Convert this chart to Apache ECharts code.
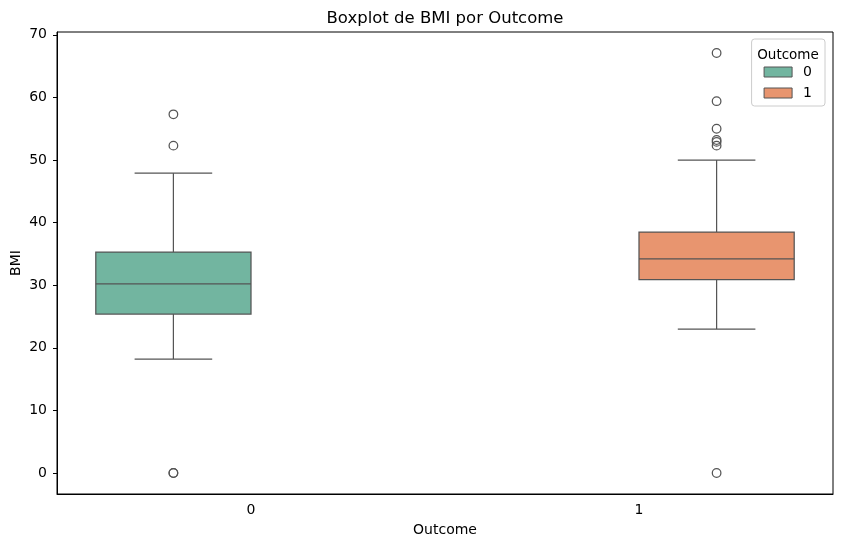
<!DOCTYPE html>
<html>
<head>
<meta charset="utf-8">
<script src="https://cdn.jsdelivr.net/npm/echarts@6/dist/echarts.min.js"></script>
<style>
html,body{margin:0;padding:0;background:#fff;}
#chart{width:841px;height:547px;}
</style>
</head>
<body>
<div id="chart"></div>
<script>
// Data
const categories = ['0', '1'];
const hueNames = ['0', '1'];
// [min whisker, Q1, median, Q3, max whisker]
const box0 = [18.2, 25.4, 30.2, 35.3, 47.9];
const box1 = [23.0, 30.9, 34.2, 38.5, 50.0];
const outliers0 = [0, 0, 52.3, 57.3];
const outliers1 = [0, 52.3, 52.9, 53.2, 55.0, 59.4, 67.1];
const yTicks = [0, 10, 20, 30, 40, 50, 60, 70];

const colors = ['#72b5a0', '#e8956f'];
const edge = '#555555';
const FONT = 'DejaVu Sans';

function boxRender(params, api) {
  const c = api.value(0), hue = api.value(1);
  const bw = api.size([1, 0])[0];
  const center = api.coord([c, 0])[0];
  const x = center + (hue - 0.5) * 0.4 * bw;
  const w = 0.4 * bw;
  const y = [2, 3, 4, 5, 6].map(i => api.coord([c, api.value(i)])[1]);
  const ls = { stroke: edge, lineWidth: 1.25 };
  return {
    type: 'group',
    children: [
      { type: 'line', shape: { x1: x, y1: y[0], x2: x, y2: y[1] }, style: ls },
      { type: 'line', shape: { x1: x, y1: y[3], x2: x, y2: y[4] }, style: ls },
      { type: 'line', shape: { x1: x - w / 4, y1: y[0], x2: x + w / 4, y2: y[0] }, style: ls },
      { type: 'line', shape: { x1: x - w / 4, y1: y[4], x2: x + w / 4, y2: y[4] }, style: ls },
      { type: 'rect', shape: { x: x - w / 2, y: y[3], width: w, height: y[1] - y[3] },
        style: { fill: colors[hue], stroke: edge, lineWidth: 1.25 } },
      { type: 'line', shape: { x1: x - w / 2, y1: y[2], x2: x + w / 2, y2: y[2] }, style: ls }
    ]
  };
}

function outlierRender(params, api) {
  const c = api.value(0), hue = api.value(1);
  const bw = api.size([1, 0])[0];
  const p = api.coord([c, api.value(2)]);
  const x = p[0] + (hue - 0.5) * 0.4 * bw;
  return {
    type: 'circle',
    shape: { cx: x, cy: p[1], r: 4.3 },
    style: { fill: 'none', stroke: edge, lineWidth: 1.25 }
  };
}

const boxSeries = [box0, box1].map((b, h) => ({
  name: hueNames[h],
  type: 'custom',
  renderItem: boxRender,
  itemStyle: { color: colors[h], borderColor: edge, borderWidth: 1 },
  encode: { x: 0, y: [2, 3, 4, 5, 6] },
  data: [[h, h].concat(b)],
  z: 2
}));

const outSeries = [outliers0, outliers1].map((o, h) => ({
  name: 'out' + h,
  type: 'custom',
  renderItem: outlierRender,
  encode: { x: 0, y: 2 },
  data: o.map(v => [h, h, v]),
  z: 3
}));

const chart = echarts.init(document.getElementById('chart'));
chart.setOption({
  animation: false,
  backgroundColor: '#fff',
  textStyle: { fontFamily: FONT },
  title: [{
    text: 'Boxplot de BMI por Outcome',
    left: 440, top: 5, textAlign: 'center',
    textStyle: { fontFamily: FONT, fontSize: 16.5, fontWeight: 'normal', color: '#000' }
  }, {
    text: 'Outcome',
    left: 783, top: 43, textAlign: 'center',
    textStyle: { fontFamily: FONT, fontSize: 13.5, fontWeight: 'normal', color: '#000' },
    z: 10
  }],
  legend: {
    data: hueNames,
    orient: 'vertical',
    right: 16, top: 39,
    padding: [26, 13, 6, 12],
    itemWidth: 28, itemHeight: 10, itemGap: 7,
    icon: 'rect',
    borderColor: '#cccccc', borderWidth: 1, borderRadius: 3,
    backgroundColor: 'rgba(255,255,255,0.8)',
    itemStyle: { borderColor: edge, borderWidth: 1 },
    textStyle: { fontFamily: FONT, fontSize: 14, color: '#000', padding: [0, 0, 0, 6] },
    selectedMode: false,
    z: 9
  },
  grid: {
    left: 57, right: 8, top: 32, bottom: 53,
    show: true, borderColor: '#000', borderWidth: 1,
    containLabel: false, outerBoundsMode: 'none'
  },
  xAxis: {
    type: 'category',
    data: categories,
    boundaryGap: true,
    name: 'Outcome', nameLocation: 'middle', nameGap: 29, nameMoveOverlap: false,
    nameTextStyle: { fontFamily: FONT, fontSize: 14, color: '#000' },
    axisLine: { onZero: false, lineStyle: { color: '#000', width: 1 } },
    axisTick: { alignWithLabel: true, length: 4, lineStyle: { color: '#000' } },
    axisLabel: { fontFamily: FONT, fontSize: 14, color: '#000', margin: 9 },
    splitLine: { show: false }
  },
  yAxis: {
    type: 'value',
    min: -3.355, max: 70.455,
    splitNumber: 7, minInterval: 10, maxInterval: 10,
    name: 'BMI', nameLocation: 'middle', nameGap: 34, nameRotate: 90, nameMoveOverlap: false,
    nameTextStyle: { fontFamily: FONT, fontSize: 14, color: '#000' },
    axisLine: { show: true, onZero: false, lineStyle: { color: '#000', width: 1 } },
    axisTick: { show: true, length: 4, customValues: yTicks, lineStyle: { color: '#000' } },
    axisLabel: { fontFamily: FONT, fontSize: 14, color: '#000', margin: 10, customValues: yTicks },
    splitLine: { show: false }
  },
  series: boxSeries.concat(outSeries)
});
</script>
</body>
</html>
